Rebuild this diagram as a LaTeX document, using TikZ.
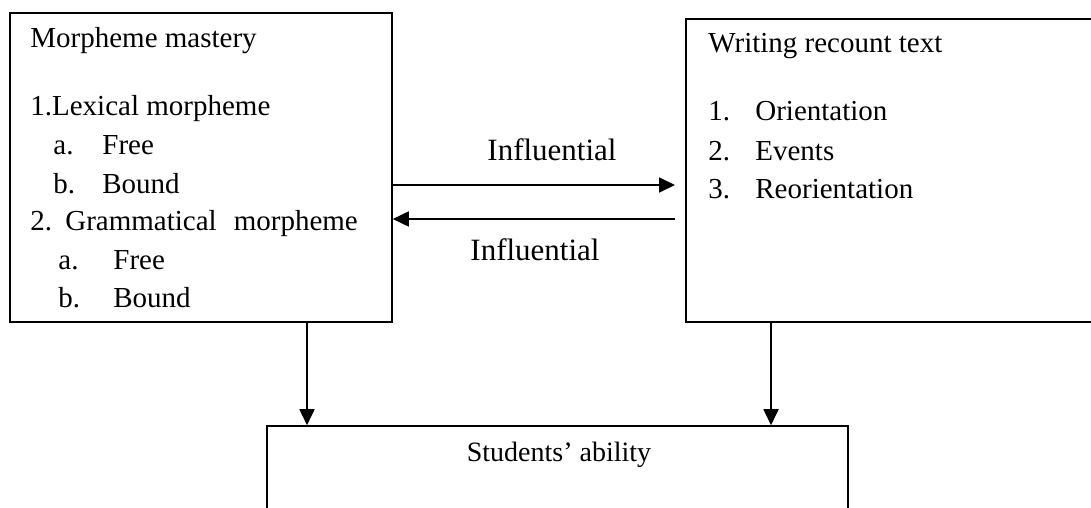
\documentclass[tikz,border=0pt]{standalone}
\usepackage{fontspec}
\setmainfont{Liberation Serif}
\usepackage{tikz}
\usetikzlibrary{arrows.meta, positioning}

\begin{document}
\begin{tikzpicture}[x=0.5pt, y=-0.5pt,
    block/.style={rectangle, draw, line width=0.8pt, inner sep=0pt},
    item/.style={anchor=base west, inner sep=0pt, font=\fontsize{14.5}{17}\selectfont},
    label/.style={inner sep=0pt, font=\fontsize{15.5}{18}\selectfont},
    arrow/.style={-{Triangle[length=8pt,width=7.5pt]}, line width=0.9pt}]

    \useasboundingbox (0,0) rectangle (1091,508);

    % boxes
    \node (mastery) [block, minimum width=191pt, minimum height=154.5pt] at (201,167.5) {};
    \node (recount) [block, minimum width=210pt, minimum height=151.5pt] at (791+105,170.5) {};
    \node (ability) [block, minimum width=290.5pt, minimum height=60pt] at (557.5,486) {};

    % left box text
    \node (mtitle) [item] at (30,48) {Morpheme mastery};
    \node (lex) [item] at (30,115) {1.Lexical morpheme};
    \node (lexa) [item] at (53,155) {\makebox[24.5pt][l]{a.}Free};
    \node (lexb) [item] at (53,193) {\makebox[24.5pt][l]{b.}Bound};
    \node (gram) [item] at (30,230) {\makebox[17.5pt][l]{2.}Grammatical\hspace{8.5pt}morpheme};
    \node (grama) [item] at (58,269) {\makebox[27.5pt][l]{a.}Free};
    \node (gramb) [item] at (58,307) {\makebox[27.5pt][l]{b.}Bound};

    % right box text
    \node (rtitle) [item] at (708,53) {Writing recount text};
    \node (orient) [item] at (708,120) {\makebox[23.5pt][l]{1.}Orientation};
    \node (events) [item] at (708,160) {\makebox[23.5pt][l]{2.}Events};
    \node (reorient) [item] at (708,198) {\makebox[23.5pt][l]{3.}Reorientation};

    % bottom box text
    \node (atitle) [inner sep=0pt, font=\fontsize{14}{17}\selectfont] at (559,455) {Students’ ability};

    % labels
    \node (infl) [label] at (552,150) {Influential};
    \node (inflback) [label] at (535,250) {Influential};

    \coordinate (ra) at (675,185);
    \coordinate (la) at (675,219);
    \coordinate (dl) at (307,0);
    \coordinate (dr) at (771,0);

    \draw [arrow] (mastery.east |- ra) -- (ra);
    \draw [arrow] (la) -- (mastery.east |- la);
    \draw [arrow] (mastery.south -| dl) -- (ability.north -| dl);
    \draw [arrow] (recount.south -| dr) -- (ability.north -| dr);
\end{tikzpicture}
\end{document}
